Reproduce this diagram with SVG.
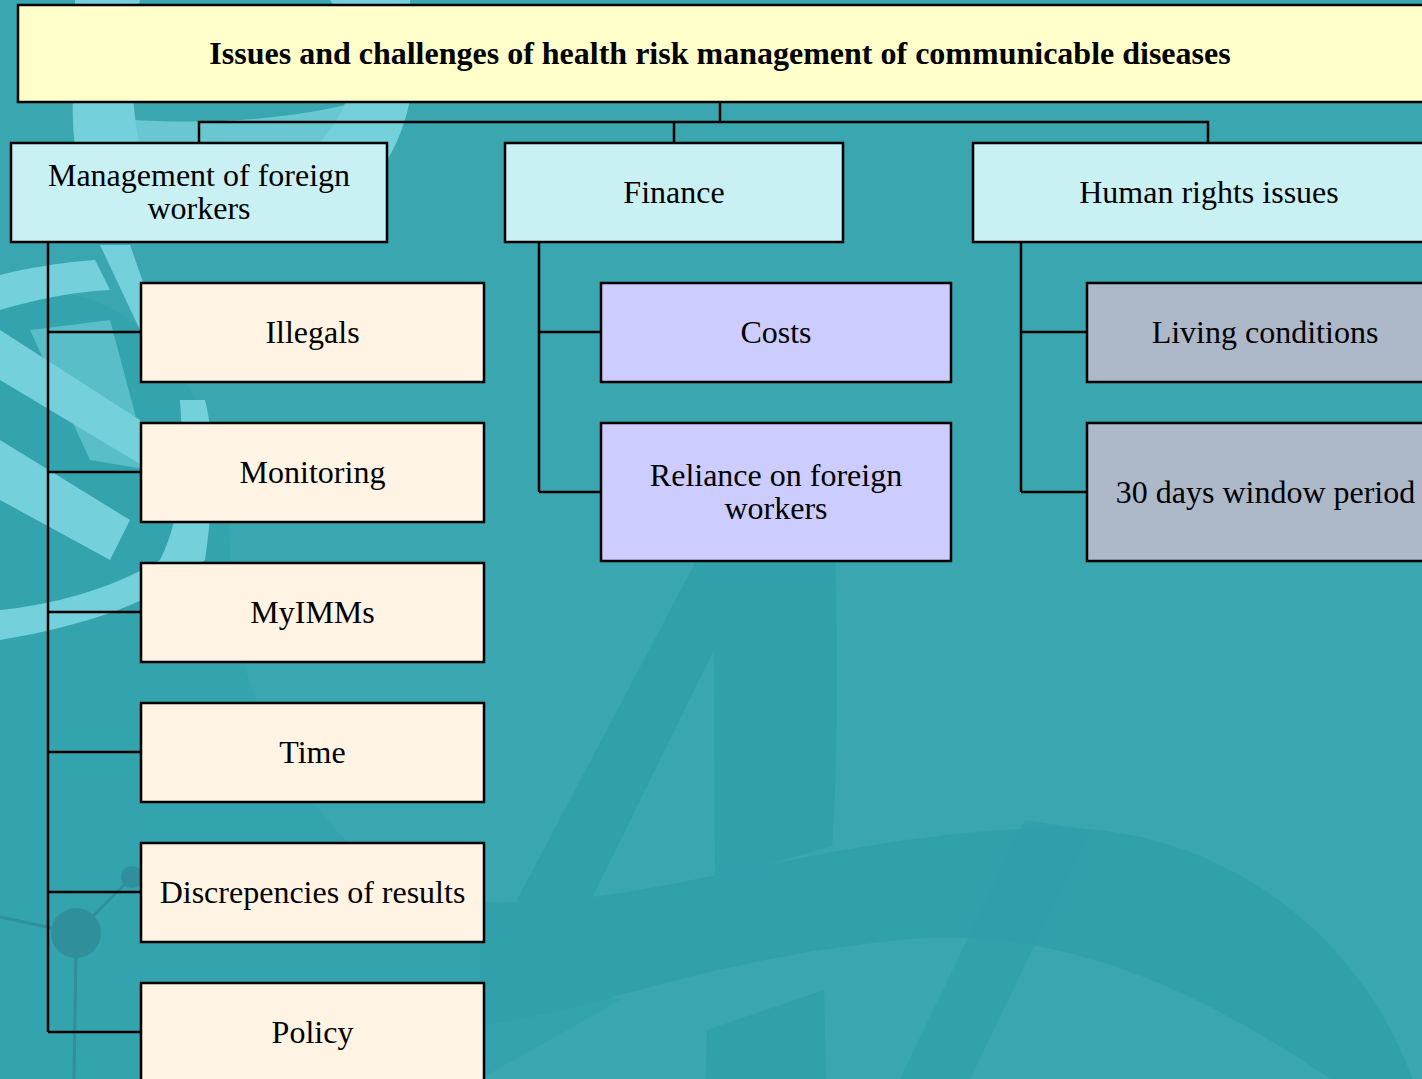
<svg xmlns="http://www.w3.org/2000/svg" width="1422" height="1079" viewBox="0 0 1422 1079">
<style>
.box{stroke:#000;stroke-width:2.5}
.title{fill:#ffffcc}
.l2{fill:#c9f0f3}
.mw{fill:#fff3e3}
.fi{fill:#ccccff}
.hr{fill:#adb8c8}
.t{font-family:"Liberation Serif","Times New Roman",serif;font-size:32px;fill:#000;text-anchor:middle}
.tb{font-family:"Liberation Serif","Times New Roman",serif;font-size:32px;font-weight:bold;fill:#000;text-anchor:middle}
.conn{fill:none;stroke:#000;stroke-width:2.5}
.dk{fill:#30a0ab}
.lt{fill:#74d0da}
</style>
<g id="background">
<rect x="0" y="0" width="1422" height="1079" fill="#39a6b0"/>
<path class="dk" d="M0,300 C120,260 230,380 230,560 C230,760 380,930 620,1000 L480,1079 L0,1079 Z" opacity="0.55"/>
<path class="dk" d="M480,1025 C600,1010 700,960 900,940 C1060,925 1200,990 1330,1079 L1422,1079 L1422,1110 C1380,950 1230,820 1040,828 C800,838 650,910 480,902 Z"/>
<path class="dk" d="M702,550 L835,550 C838,650 838,760 832,846 L715,880 L714,650 L590,902 L516,902 Z"/>
<path class="dk" d="M706,1079 L707,1030 L824,990 L826,1079 Z"/>
<path class="dk" d="M900,1079 L1025,820 L1090,830 L970,1079 Z" opacity="0.8"/>
<path class="lt" d="M75,0 C75,60 70,110 75,145 L140,145 C130,100 130,50 140,0 Z"/>
<path class="lt" d="M330,0 C360,40 360,90 330,130 C300,170 250,190 200,195 L200,242 L300,242 C370,200 410,150 415,60 L410,0 Z"/>
<path class="lt" d="M75,115 C160,125 260,125 345,105 L350,140 C260,160 160,160 75,150 Z" opacity="0.8"/>
<path class="lt" d="M0,640 C90,625 160,600 205,560 C215,490 215,440 205,400 L180,400 C185,470 180,520 160,560 C110,590 50,605 0,610 Z"/>
<path class="lt" d="M0,275 C40,265 70,262 95,260 L110,290 C70,292 35,300 0,310 Z"/>
<path class="lt" d="M100,245 L130,245 L160,330 L140,330 Z"/>
<path class="lt" d="M0,330 L140,420 L150,470 L0,380 Z"/>
<path class="lt" d="M0,440 L130,520 L110,560 L0,500 Z"/>
<path class="lt" d="M30,330 L110,320 L150,470 L90,460 Z" opacity="0.6"/>
<g fill="#2f909b" stroke="#2f909b">
<circle cx="76" cy="933" r="25" stroke="none"/>
<circle cx="132" cy="877" r="11" stroke="none"/>
<line x1="0" y1="917" x2="52" y2="928" stroke-width="3"/>
<line x1="76" y1="933" x2="132" y2="877" stroke-width="3"/>
<line x1="76" y1="950" x2="74" y2="1079" stroke-width="3"/>
</g>
</g>
<g id="connectors">
<path class="conn" d="M720,102 V122 M199,143 V122 H1208 V143 M674,122 V143"/>
<path class="conn" d="M48,242 V1032 M48,332 H141 M48,472 H141 M48,612 H141 M48,752 H141 M48,892 H141 M48,1032 H141"/>
<path class="conn" d="M539,242 V492 M539,332 H601 M539,492 H601"/>
<path class="conn" d="M1021,242 V492 M1021,332 H1087 M1021,492 H1087"/>
</g>
<g id="node-title">
<rect class="box title" x="18" y="5" width="1420" height="97"/>
<text class="tb" x="720" y="64">Issues and challenges of health risk management of communicable diseases</text>
</g>
<g id="node-management">
<rect class="box l2" x="11" y="143" width="376" height="99"/>
<text class="t" x="199" y="186">Management of foreign</text>
<text class="t" x="199" y="219">workers</text>
</g>
<g id="node-finance">
<rect class="box l2" x="505" y="143" width="338" height="99"/>
<text class="t" x="674" y="203">Finance</text>
</g>
<g id="node-human-rights">
<rect class="box l2" x="973" y="143" width="472" height="99"/>
<text class="t" x="1209" y="203">Human rights issues</text>
</g>
<g id="node-illegals">
<rect class="box mw" x="141" y="283" width="343" height="99"/>
<text class="t" x="312.5" y="343">Illegals</text>
</g>
<g id="node-monitoring">
<rect class="box mw" x="141" y="423" width="343" height="99"/>
<text class="t" x="312.5" y="483">Monitoring</text>
</g>
<g id="node-myimms">
<rect class="box mw" x="141" y="563" width="343" height="99"/>
<text class="t" x="312.5" y="623">MyIMMs</text>
</g>
<g id="node-time">
<rect class="box mw" x="141" y="703" width="343" height="99"/>
<text class="t" x="312.5" y="763">Time</text>
</g>
<g id="node-discrepencies">
<rect class="box mw" x="141" y="843" width="343" height="99"/>
<text class="t" x="312.5" y="903">Discrepencies of results</text>
</g>
<g id="node-policy">
<rect class="box mw" x="141" y="983" width="343" height="110"/>
<text class="t" x="312.5" y="1043">Policy</text>
</g>
<g id="node-costs">
<rect class="box fi" x="601" y="283" width="350" height="99"/>
<text class="t" x="776" y="343">Costs</text>
</g>
<g id="node-reliance">
<rect class="box fi" x="601" y="423" width="350" height="138"/>
<text class="t" x="776" y="486">Reliance on foreign</text>
<text class="t" x="776" y="519">workers</text>
</g>
<g id="node-living">
<rect class="box hr" x="1087" y="283" width="360" height="99"/>
<text class="t" x="1265" y="343">Living conditions</text>
</g>
<g id="node-window">
<rect class="box hr" x="1087" y="423" width="360" height="138"/>
<text class="t" x="1265.5" y="503">30 days window period</text>
</g>
</svg>
